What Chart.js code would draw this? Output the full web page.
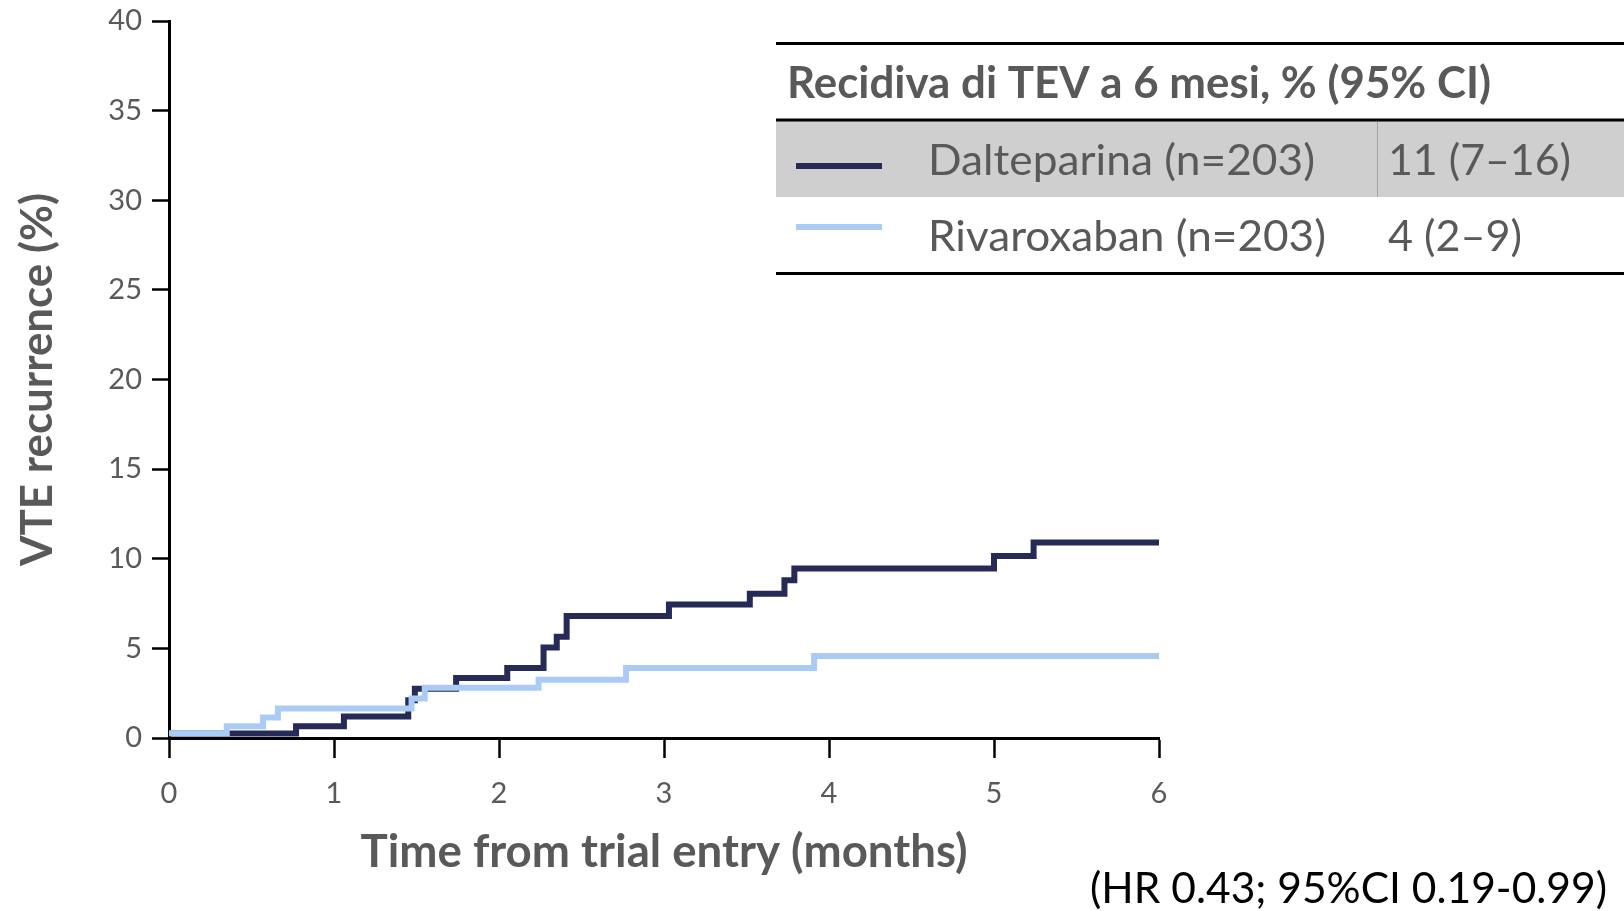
<!DOCTYPE html>
<html>
<head>
<meta charset="utf-8">
<script src="https://cdn.jsdelivr.net/npm/chart.js@4.4.1/dist/chart.umd.min.js"></script>
<style>
html,body{margin:0;padding:0;background:#ffffff;overflow:hidden}
canvas{display:block}
</style>
</head>
<body>
<canvas id="c" width="1624" height="911"></canvas>
<script>
// ---- data ----
const dalteparinaTimes  = [0, 0.77, 1.06, 1.45, 1.49, 1.74, 2.05, 2.27, 2.35, 2.41, 3.03, 3.52, 3.73, 3.79, 5.00, 5.24, 6.00];
const dalteparinaValues = [0.25, 0.65, 1.2, 2.1, 2.75, 3.35, 3.9, 5.05, 5.65, 6.8, 7.45, 8.05, 8.8, 9.45, 10.15, 10.9, 10.9];
const rivaroxabanTimes  = [0, 0.35, 0.57, 0.66, 1.47, 1.55, 2.24, 2.77, 3.91, 6.00];
const rivaroxabanValues = [0.27, 0.65, 1.15, 1.65, 2.2, 2.8, 3.25, 3.9, 4.57, 4.57];
const xTickValues = [0, 1, 2, 3, 4, 5, 6];
const yTickValues = [0, 5, 10, 15, 20, 25, 30, 35, 40];
const seriesNames = ['Dalteparina (n=203)', 'Rivaroxaban (n=203)'];
const seriesRates = ['11 (7–16)', '4 (2–9)'];
const tableTitle = 'Recidiva di TEV a 6 mesi, % (95% CI)';
const hrNote = '(HR 0.43; 95%CI 0.19-0.99)';
const xTitle = 'Time from trial entry (months)';
const yTitle = 'VTE recurrence (%)';

const DARK = '#262a56';
const LIGHT = '#abcbf7';
const GREY = '#595959';
const FONT = 'Lato';

const mctx = document.createElement('canvas').getContext('2d');
function fitSize(text, weight, base, target) {
  mctx.font = weight + ' ' + base + 'px ' + FONT;
  return base * target / mctx.measureText(text).width;
}

function pts(t, v) { return t.map((x, i) => ({x: x, y: v[i]})); }

function drawFitted(ctx, text, x, y, targetW, size, weight, color) {
  ctx.save();
  ctx.font = weight + ' ' + size + 'px ' + FONT;
  const w = ctx.measureText(text).width;
  const sx = targetW / w;
  ctx.translate(x, y);
  ctx.scale(sx, 1);
  ctx.fillStyle = color;
  ctx.textAlign = 'left';
  ctx.textBaseline = 'middle';
  ctx.fillText(text, 0, 0);
  ctx.restore();
}

const tablePlugin = {
  id: 'tablePlugin',
  afterDraw(chart) {
    const ctx = chart.ctx;
    const W = chart.width;
    ctx.save();
    ctx.fillStyle = '#cfcfcf';
    ctx.fillRect(776, 121, W - 776, 76);
    ctx.strokeStyle = '#a3a3a3';
    ctx.lineWidth = 1;
    ctx.beginPath(); ctx.moveTo(1377.5, 121); ctx.lineTo(1377.5, 197); ctx.stroke();
    ctx.strokeStyle = '#000';
    ctx.lineWidth = 3;
    [43.5, 120, 273.5].forEach(y => {
      ctx.beginPath(); ctx.moveTo(776, y); ctx.lineTo(W, y); ctx.stroke();
    });
    ctx.lineWidth = 6;
    ctx.strokeStyle = DARK;
    ctx.beginPath(); ctx.moveTo(796, 166); ctx.lineTo(882, 166); ctx.stroke();
    ctx.strokeStyle = LIGHT;
    ctx.beginPath(); ctx.moveTo(796, 227); ctx.lineTo(882, 227); ctx.stroke();
    ctx.restore();
    drawFitted(ctx, tableTitle, 787, 84, 704, 43, 'bold', GREY);
    drawFitted(ctx, seriesNames[0], 928, 161, 387, 43, 'normal', GREY);
    drawFitted(ctx, seriesRates[0], 1388, 161, 183, 43, 'normal', GREY);
    drawFitted(ctx, seriesNames[1], 928, 237, 398, 43, 'normal', GREY);
    drawFitted(ctx, seriesRates[1], 1388, 237, 134, 43, 'normal', GREY);
    drawFitted(ctx, hrNote, 1090, 889, 517, 43, 'normal', '#000');
  }
};

const xTitleSize = fitSize(xTitle, 'bold', 43, 607);
const yTitleSize = fitSize(yTitle, 'bold', 43, 373);

new Chart(document.getElementById('c'), {
  type: 'line',
  data: {
    datasets: [
      {
        label: seriesNames[0],
        data: pts(dalteparinaTimes, dalteparinaValues),
        borderColor: DARK,
        borderWidth: 6,
        stepped: 'before',
        pointRadius: 0,
        fill: false,
        borderJoinStyle: 'miter',
        borderCapStyle: 'butt',
        order: 1
      },
      {
        label: seriesNames[1],
        data: pts(rivaroxabanTimes, rivaroxabanValues),
        borderColor: LIGHT,
        borderWidth: 6,
        stepped: 'before',
        pointRadius: 0,
        fill: false,
        borderJoinStyle: 'miter',
        borderCapStyle: 'butt',
        order: 0
      }
    ]
  },
  options: {
    responsive: false,
    animation: false,
    devicePixelRatio: 1,
    layout: { padding: { top: 21, right: 465, left: 0, bottom: 0 } },
    plugins: { legend: { display: false }, tooltip: { enabled: false } },
    scales: {
      x: {
        type: 'linear',
        min: 0, max: 6,
        afterBuildTicks: s => { s.ticks = xTickValues.map(v => ({value: v})); },
        afterFit: s => { s.height = 173; s.paddingLeft = 0; s.paddingRight = 0; },
        ticks: { font: { family: FONT, size: 29 }, color: GREY, padding: 18, maxRotation: 0 },
        grid: { drawOnChartArea: false, drawTicks: true, tickLength: 20, tickWidth: 2.5, tickColor: '#000' },
        border: { display: true, width: 3, color: '#000' },
        title: { display: true, text: xTitle, color: GREY, font: { family: FONT, size: xTitleSize, weight: 'bold' }, padding: { top: 0, bottom: 31 } }
      },
      y: {
        type: 'linear',
        min: 0, max: 40,
        afterBuildTicks: s => { s.ticks = yTickValues.map(v => ({value: v})); },
        afterFit: s => { s.width = 169; s.paddingTop = 0; s.paddingBottom = 0; },
        ticks: { font: { family: FONT, size: 29 }, color: GREY, padding: 10 },
        grid: { drawOnChartArea: false, drawTicks: true, tickLength: 17, tickWidth: 2.5, tickColor: '#000' },
        border: { display: true, width: 3, color: '#000' },
        title: { display: true, text: yTitle, color: GREY, font: { family: FONT, size: yTitleSize, weight: 'bold' }, padding: { top: 12, bottom: 0 } }
      }
    }
  },
  plugins: [tablePlugin]
});
</script>
</body>
</html>
